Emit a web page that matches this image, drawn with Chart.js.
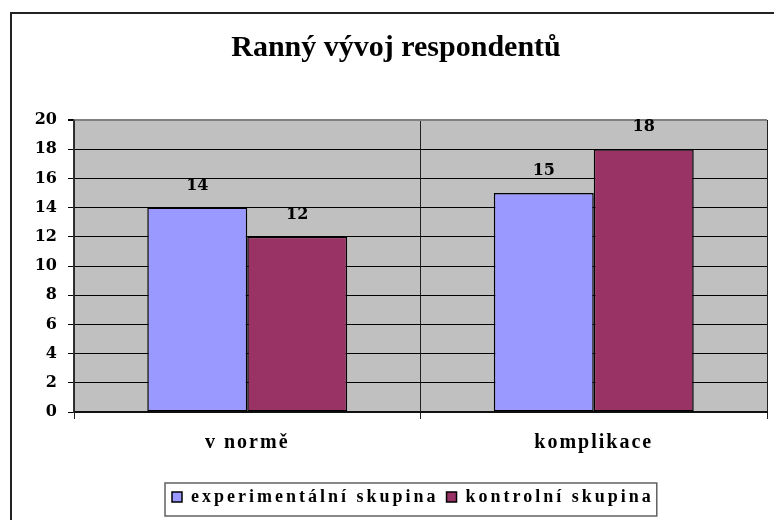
<!DOCTYPE html>
<html>
<head>
<meta charset="utf-8">
<script src="https://cdn.jsdelivr.net/npm/chart.js@4.4.1/dist/chart.umd.min.js"></script>
<style>
  html, body { margin: 0; padding: 0; background: #fff; }
</style>
</head>
<body>
<canvas id="bars" width="774" height="520"></canvas>
<script>
// data
var chartTitle = 'Ranný vývoj respondentů';
var categories = ['v normě', 'komplikace'];
var seriesNames = ['experimentální skupina', 'kontrolní skupina'];
var experimentalni = [14, 15];
var kontrolni = [12, 18];
var yTicks = [0, 2, 4, 6, 8, 10, 12, 14, 16, 18, 20];

var serif = "'Liberation Serif', 'Times New Roman', serif";
var digits = "'DejaVu Serif', 'Liberation Serif', serif";
var legendStartX = 172; // where the first legend swatch starts

// Excel-ish wide letter spacing on some texts
function withSpacing(obj, name, px) {
  if (!obj || !obj[name] || obj[name]._spaced) return;
  var orig = obj[name];
  var fn = function () {
    var c = this.ctx, prev = c.letterSpacing;
    c.letterSpacing = px;
    try { return orig.apply(this, arguments); }
    finally { c.letterSpacing = prev || '0px'; }
  };
  fn._spaced = true;
  obj[name] = fn;
}

const framePlugin = {
  id: 'frame',
  beforeLayout(chart) {
    withSpacing(chart.legend, 'fit', '3px');
    withSpacing(chart.legend, 'draw', '3px');
    withSpacing(chart.scales.x, 'drawLabels', '2px');
  },
  afterLayout(chart) {
    var lg = chart.legend;
    var pad = lg.options.labels.padding;
    var start = (lg.left + pad + lg.right - lg.lineWidths[0]) / 2;
    var dx = legendStartX - start;
    lg.left += dx;
    lg.right += dx;
    chart.$legendRow = { x: legendStartX, w: lg.lineWidths[0] - pad };
  },
  beforeDraw(chart) {
    var ctx = chart.ctx, a = chart.chartArea;
    ctx.save();
    ctx.fillStyle = '#fff';
    ctx.fillRect(0, 0, chart.width, chart.height);
    ctx.fillStyle = '#c0c0c0';
    ctx.fillRect(a.left, a.top, a.right - a.left, a.bottom - a.top);
    // outer chart border (runs off the right and bottom)
    ctx.strokeStyle = '#222';
    ctx.lineWidth = 2;
    ctx.strokeRect(11, 13, 800, 560);
    ctx.restore();
  },
  afterDatasetsDraw(chart) {
    var ctx = chart.ctx;
    ctx.save();
    ctx.font = 'bold 16px ' + digits;
    ctx.fillStyle = '#000';
    ctx.textAlign = 'center';
    ctx.textBaseline = 'middle';
    chart.data.datasets.forEach(function (ds, i) {
      chart.getDatasetMeta(i).data.forEach(function (bar, j) {
        ctx.fillText(String(ds.data[j]), bar.x, bar.y - 22);
      });
    });
    ctx.restore();
  },
  afterDraw(chart) {
    var r = chart.$legendRow;
    if (!r) return;
    var ctx = chart.ctx;
    ctx.save();
    ctx.strokeStyle = '#606060';
    ctx.lineWidth = 1.5;
    ctx.strokeRect(r.x - 7, 483, r.w + 10, 33);
    ctx.restore();
  }
};

const barConfig = {
  type: 'bar',
  data: {
    labels: categories,
    datasets: [
      {
        label: seriesNames[0],
        data: experimentalni,
        backgroundColor: '#9999ff',
        borderColor: '#000',
        borderWidth: 1.5,
        borderSkipped: false,
      },
      {
        label: seriesNames[1],
        data: kontrolni,
        backgroundColor: '#993366',
        borderColor: '#000',
        borderWidth: 1.5,
        borderSkipped: false,
      },
    ],
  },
  options: {
    responsive: false,
    animation: false,
    devicePixelRatio: 1,
    categoryPercentage: 0.577,
    barPercentage: 1,
    layout: { padding: { top: 0, left: 25, right: 7, bottom: 4 } },
    plugins: {
      title: {
        display: true,
        text: chartTitle,
        color: '#000',
        font: { family: serif, size: 30, weight: 'bold', lineHeight: 1 },
        padding: { top: 33, bottom: 57 },
      },
      legend: {
        position: 'bottom',
        labels: {
          color: '#000',
          font: { family: serif, size: 18, weight: 'bold' },
          boxWidth: 10,
          boxHeight: 10,
          padding: 8,
        },
      },
      tooltip: { enabled: false },
    },
    scales: {
      x: {
        grid: {
          offset: true,
          tickLength: 7,
          color: function (c) { return c.index === 2 ? '#808080' : '#222'; },
          tickColor: function (c) { return c.index === 2 ? '#808080' : '#222'; },
          lineWidth: function (c) { return c.index === 2 ? 2 : 1; },
        },
        border: { color: '#111', width: 2 },
        ticks: {
          color: '#000',
          font: { family: serif, size: 20, weight: 'bold' },
          padding: 12,
          maxRotation: 0,
        },
        afterFit: function (s) { s.height = 68; },
      },
      y: {
        min: 0,
        max: 20,
        afterBuildTicks: function (s) { s.ticks = yTicks.map(function (v) { return { value: v }; }); },
        grid: {
          tickLength: 6,
          color: function (c) { return c.tick && c.tick.value === 20 ? '#808080' : '#000'; },
          tickColor: '#000',
          lineWidth: function (c) { return c.tick && c.tick.value === 20 ? 2 : 1; },
        },
        border: { color: '#333', width: 1.5 },
        ticks: {
          color: '#000',
          font: { family: digits, size: 16, weight: 'bold' },
          padding: 11,
        },
        afterFit: function (s) { s.width = 49; },
      },
    },
  },
  plugins: [framePlugin],
};

const barCtx = document.getElementById('bars');
window.myBars = new Chart(barCtx, barConfig);
</script>
</body>
</html>
